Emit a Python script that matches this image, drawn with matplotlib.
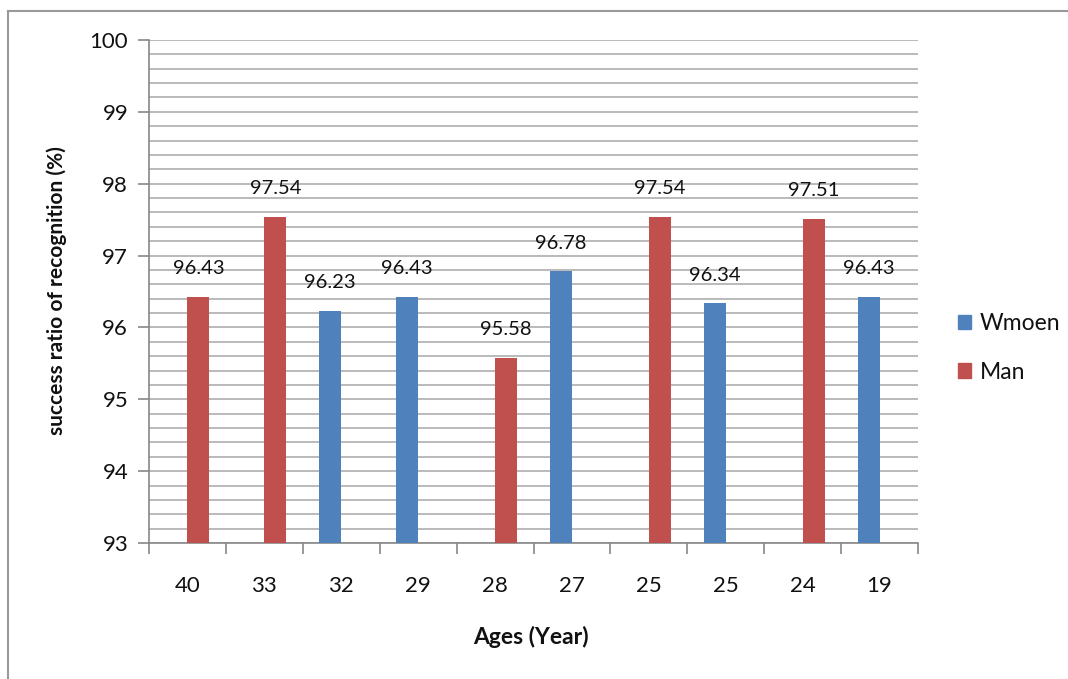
import numpy as np
import matplotlib.pyplot as plt
from matplotlib.lines import Line2D
from matplotlib.patches import Patch

ages = ['40', '33', '32', '29', '28', '27', '25', '25', '24', '19']
women = [np.nan, np.nan, 96.23, 96.43, np.nan, 96.78, np.nan, 96.34, np.nan, 96.43]
man = [96.43, 97.54, np.nan, np.nan, 95.58, np.nan, 97.54, np.nan, 97.51, np.nan]
y_ticks = [93, 94, 95, 96, 97, 98, 99, 100]

blue = '#4F81BD'
red = '#C0504D'
grid_c = '#B4B4B4'
font = ['Lato', 'DejaVu Sans']
plt.rcParams['font.family'] = font
plt.rcParams['text.color'] = '#111111'
plt.rcParams['xtick.color'] = '#888888'
plt.rcParams['ytick.color'] = '#888888'
plt.rcParams['xtick.labelcolor'] = '#111111'
plt.rcParams['ytick.labelcolor'] = '#111111'

fig = plt.figure(figsize=(10.68, 6.79), dpi=100)
ax = fig.add_axes([149 / 1068, 1 - 543 / 679, 769 / 1068, 503 / 679])

x = np.arange(len(ages))
w = 0.286
b1 = ax.bar(x - w / 2, women, w, color=blue, label='Wmoen', zorder=3)
b2 = ax.bar(x + w / 2, man, w, color=red, label='Man', zorder=3)

def label_bars(bars, vals):
    for rect, v in zip(bars, vals):
        if np.isnan(v):
            continue
        ax.annotate('%.2f' % v, (rect.get_x() + rect.get_width() / 2, v),
                    xytext=(0, 14), textcoords='offset points',
                    ha='center', va='bottom', fontsize=14.5)

label_bars(b1, women)
label_bars(b2, man)

ax.set_xlim(-0.5, len(ages) - 0.5)
ax.set_ylim(93, 100)
ax.set_yticks(y_ticks)
ax.set_yticks(np.arange(93, 100.01, 0.2), minor=True)
ax.tick_params(axis='y', which='major', length=8, width=1.2,
               labelsize=16, pad=7)
ax.tick_params(axis='y', which='minor', length=0)

ax.set_xticks(np.arange(-0.5, len(ages), 1.0))
ax.set_xticklabels([])
ax.set_xticks(x, minor=True)
ax.set_xticklabels(ages, minor=True)
ax.tick_params(axis='x', which='major', length=8, width=1.2)
ax.tick_params(axis='x', which='minor', length=0, labelsize=16, pad=24)

ax.grid(axis='y', which='both', color=grid_c, linewidth=1.3, zorder=0)
ax.set_axisbelow(True)
for s in ['top', 'right']:
    ax.spines[s].set_visible(False)
for s in ['left', 'bottom']:
    ax.spines[s].set_color('#888888')
    ax.spines[s].set_linewidth(1.2)

fig.text(531 / 1068, 1 - 637 / 679, 'Ages (Year)', ha='center', va='center',
         fontsize=16.5, fontweight='bold')
fig.text(57 / 1068, 1 - 291 / 679, 'success ratio of recognition (%)',
         ha='center', va='center', rotation=90, fontsize=15, fontweight='bold')

handles = [Patch(color=blue), Patch(color=red)]
fig.legend(handles, ['Wmoen', 'Man'], loc='center left',
           bbox_to_anchor=(937 / 1068, 1 - 348 / 679), frameon=False,
           fontsize=16.5, handlelength=0.6, handleheight=0.6, handletextpad=0.35,
           labelspacing=1.2)

# outer chart border (left and top edges visible)
fig.add_artist(Line2D([8 / 1068, 8 / 1068], [0, 1 - 11 / 679],
                      transform=fig.transFigure, color='#999999', lw=1.5))
fig.add_artist(Line2D([8 / 1068, 1], [1 - 11 / 679, 1 - 11 / 679],
                      transform=fig.transFigure, color='#999999', lw=1.5))

fig.savefig('out.png', dpi=100)
